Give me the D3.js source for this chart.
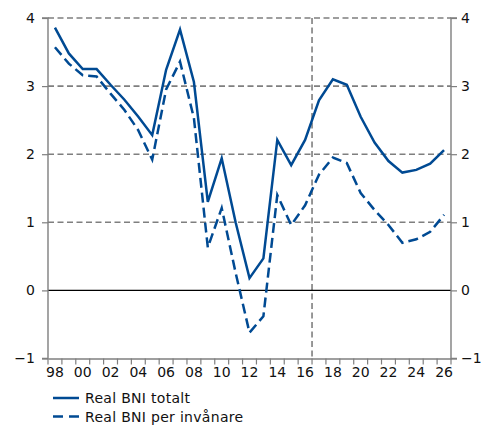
<!DOCTYPE html>
<html><head><meta charset="utf-8">
<script src="https://cdn.jsdelivr.net/npm/d3@7"></script>
<style>body{margin:0;background:#fff}svg{display:block}</style>
</head><body>
<svg id="c" width="486" height="425"></svg>
<script>
const years = d3.range(1998, 2027);
const tickLabels = ["98","00","02","04","06","08","10","12","14","16","18","20","22","24","26"];
const yTicks = [-1, 0, 1, 2, 3, 4];
const seriesNames = ["Real BNI totalt", "Real BNI per invånare"];
const bniTotal = [3.86,3.48,3.25,3.25,3.02,2.80,2.55,2.28,3.24,3.83,3.06,1.30,1.94,1.00,0.18,0.47,2.21,1.84,2.21,2.79,3.10,3.02,2.55,2.17,1.90,1.73,1.77,1.86,2.06];
const bniPerCapita = [3.57,3.33,3.16,3.14,2.89,2.65,2.35,1.92,2.95,3.36,2.53,0.63,1.21,0.26,-0.62,-0.38,1.40,0.96,1.25,1.70,1.95,1.87,1.43,1.18,0.96,0.70,0.75,0.86,1.11];
const forecastStart = 2017;

const svg = d3.select("#c");
const L = 48, R = 451, T = 18, B = 358.5;
const x = d3.scaleBand().domain(years).range([L, R]).padding(0);
const y = d3.scaleLinear().domain([-1, 4]).range([B, T]);
const cx = d => x(d) + x.bandwidth() / 2;
const font = "'DejaVu Sans', Verdana, sans-serif";
const lineColor = "#004a93";
const gridColor = "#7f7f7f";

// grid
svg.append("g").selectAll("line").data(yTicks.filter(v => v > -1 && v !== 0)).join("line")
  .attr("x1", L).attr("x2", R).attr("y1", d => y(d)).attr("y2", d => y(d))
  .attr("stroke", gridColor).attr("stroke-width", 1.6).attr("stroke-dasharray", "6,3.5");
// vertical forecast line
svg.append("line").attr("x1", x(forecastStart)).attr("x2", x(forecastStart))
  .attr("y1", T).attr("y2", B)
  .attr("stroke", gridColor).attr("stroke-width", 1.6).attr("stroke-dasharray", "6,3.5");
// zero line
svg.append("line").attr("x1", L).attr("x2", R).attr("y1", y(0)).attr("y2", y(0))
  .attr("stroke", "#000").attr("stroke-width", 1.2);

// axes
const yl = svg.append("g").attr("transform", `translate(${L},0)`)
  .call(d3.axisLeft(y).tickValues(yTicks).tickSize(6).tickPadding(7).tickFormat(d3.format("d")));
const yr = svg.append("g").attr("transform", `translate(${R},0)`)
  .call(d3.axisRight(y).tickValues(yTicks).tickSize(6).tickPadding(4).tickFormat(d3.format("d")));
const xb = svg.append("g").attr("transform", `translate(0,${B})`)
  .call(d3.axisBottom(x).tickValues(years.filter((d, i) => i % 2 === 0)).tickSize(0).tickPadding(9)
    .tickFormat((d, i) => tickLabels[i]));
// year boundary ticks
const bounds = years.map(d => x(d)).concat([R]);
svg.append("g").selectAll("line").data(bounds).join("line")
  .attr("x1", d => d).attr("x2", d => d).attr("y1", B).attr("y2", B + 6)
  .attr("stroke", gridColor).attr("stroke-width", 1.2);

[yl, yr, xb].forEach(g => {
  g.select(".domain").attr("stroke", gridColor).attr("stroke-width", 1.4);
  g.selectAll(".tick line").attr("stroke", gridColor).attr("stroke-width", 1.2);
  g.selectAll("text").attr("font-family", font).attr("font-size", 14).attr("fill", "#111");
});
yr.select(".domain").attr("d", `M6,${T}H0V${B}H6`);
yl.select(".domain").attr("d", `M-6,${T}H0V${B}H-6`);

// lines
const line = d3.line().x((d, i) => cx(years[i])).y(d => y(d));
svg.append("path").datum(bniPerCapita).attr("d", line).attr("fill", "none")
  .attr("stroke", lineColor).attr("stroke-width", 2.5).attr("stroke-dasharray", "10,5");
svg.append("path").datum(bniTotal).attr("d", line).attr("fill", "none")
  .attr("stroke", lineColor).attr("stroke-width", 2.5);

// legend
const lg = svg.append("g");
seriesNames.forEach((n, i) => {
  const yy = 398 + i * 18.5;
  lg.append("line").attr("x1", 53).attr("x2", 79).attr("y1", yy).attr("y2", yy)
    .attr("stroke", lineColor).attr("stroke-width", 2.5)
    .attr("stroke-dasharray", i === 1 ? "10,6" : null);
  lg.append("text").attr("x", 85).attr("y", yy + 5).text(n)
    .attr("font-family", font).attr("font-size", 14).attr("letter-spacing", 0.3).attr("fill", "#111");
});
</script>
</body></html>
